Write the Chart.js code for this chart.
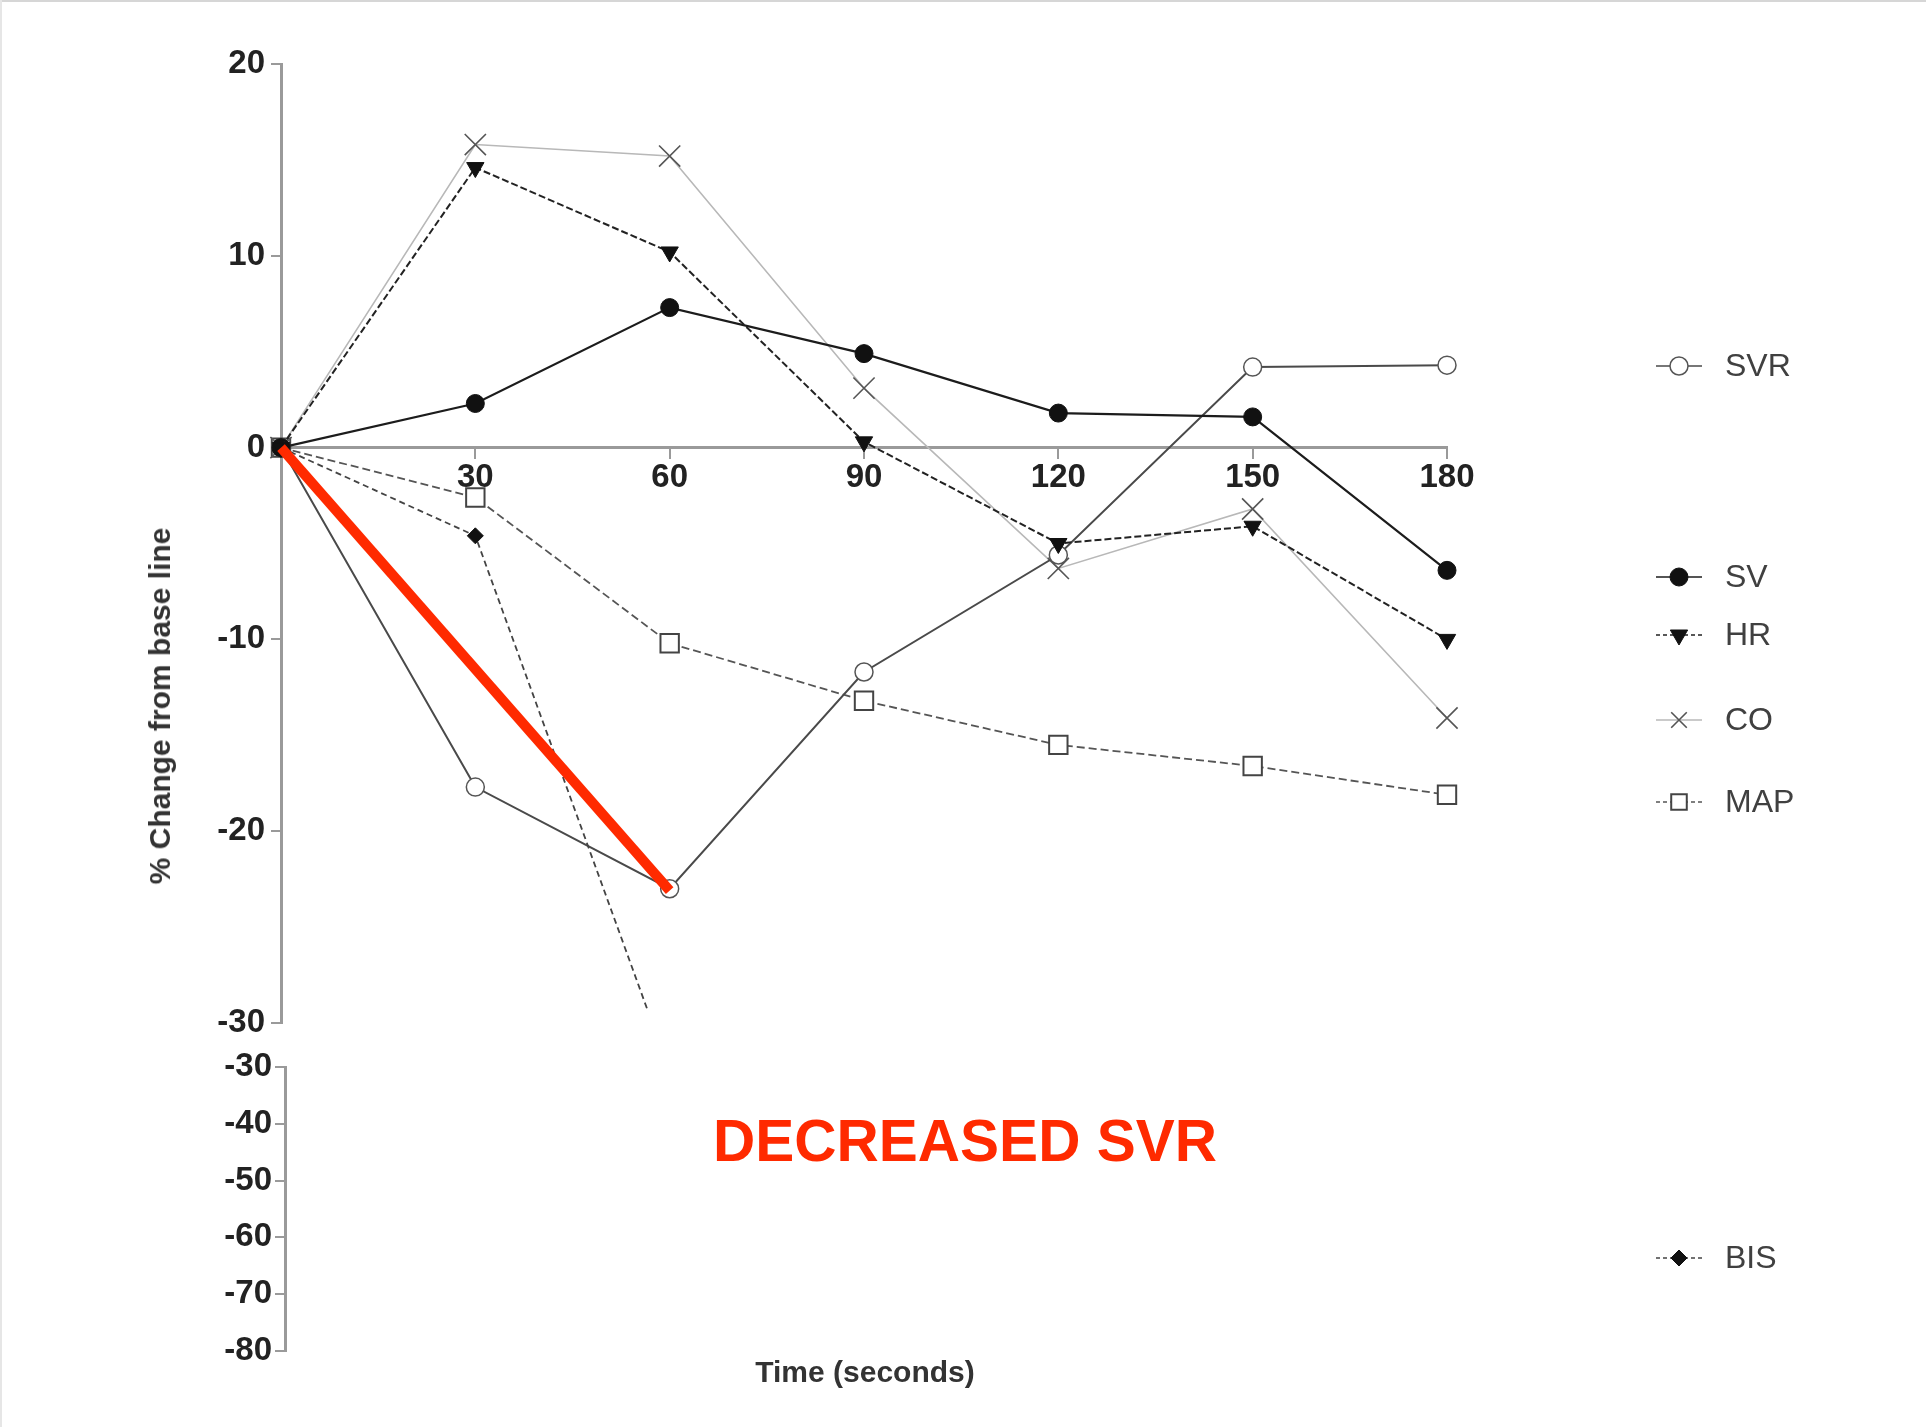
<!DOCTYPE html>
<html>
<head>
<meta charset="utf-8">
<script src="https://cdn.jsdelivr.net/npm/chart.js@4.4.0/dist/chart.umd.min.js"></script>
<style>
  html, body { margin: 0; padding: 0; background: #fff; }
  #page { position: relative; width: 1926px; height: 1427px; overflow: hidden; background: #fff; }
  #page canvas { position: absolute; left: 0; top: 0; }
  .edge { position: absolute; background: #d6d6d6; }
  .txt { position: absolute; font-family: "Liberation Sans", Arial, sans-serif; white-space: nowrap; }
  #yTitle { left: 160px; top: 706px; font-size: 30px; font-weight: bold; color: #333;
            transform: translate(-50%, -50%) rotate(-90deg); }
  #xTitle { left: 865px; top: 1372px; font-size: 30px; font-weight: bold; color: #333;
            transform: translate(-50%, -50%); }
  #note { left: 965px; top: 1140px; font-size: 60px; font-weight: bold; color: #ff2a00;
          transform: translate(-50%, -50%) scaleX(0.975); }
</style>
</head>
<body>
<div id="page">
  <canvas id="lowerChart" width="1926" height="1427"></canvas>
  <canvas id="upperChart" width="1926" height="1427"></canvas>
  <div class="edge" style="left:0;top:0;width:1926px;height:2px;"></div>
  <div class="edge" style="left:0;top:0;width:2px;height:1427px;background:#e6e6e6;"></div>
  <div class="txt" id="yTitle">% Change from base line</div>
  <div class="txt" id="xTitle">Time (seconds)</div>
  <div class="txt" id="note">DECREASED SVR</div>
</div>
<script>
// --- data ---
const seconds = [0, 30, 60, 90, 120, 150, 180];
const svr = [0, -17.7, -23.0, -11.7, -5.6, 4.2, 4.3];
const sv  = [0, 2.3, 7.3, 4.9, 1.8, 1.6, -6.4];
const hr  = [0, 14.6, 10.2, 0.3, -5.0, -4.1, -10.0];
const co  = [0, 15.8, 15.2, 3.1, -6.3, -3.2, -14.1];
const map = [0, -2.6, -10.2, -13.2, -15.5, -16.6, -18.1];
const bis = [0, -4.6, -32.5, null, null, null, null];

// red annotation stroke
const arrowSeconds = [0, 60];
const arrowValues = [0, -23.1];

const timeTicks = [30, 60, 90, 120, 150, 180];
const upperTicks = [20, 10, 0, -10, -20, -30];
const lowerTicks = [-30, -40, -50, -60, -70, -80];

// --- theme ---
const FONT = '"Liberation Sans", Arial, sans-serif';
const AXIS_GRAY = '#9a9a9a';
const TICK_FONT = { family: FONT, size: 33, weight: 'bold' };
const LEGEND_X = 1679;
const LEGEND_TEXT_X = 1725;

function pts(values) {
    return seconds.map((s, i) => ({ x: s, y: values[i] }));
}

function series(label, values, style) {
    return Object.assign({
        label: label,
        data: pts(values),
        fill: false,
        tension: 0,
        spanGaps: false,
        clip: false
    }, style);
}

// first entries are painted last (on top)
const datasets = [
    {
        label: 'note',
        data: arrowSeconds.map((s, i) => ({ x: s, y: arrowValues[i] })),
        borderColor: '#ff2a00', borderWidth: 10, borderCapStyle: 'butt',
        pointRadius: 0, fill: false, clip: false
    },
    series('HR', hr, {
        borderColor: '#222', borderWidth: 2, borderDash: [7, 3],
        pointStyle: 'triangle', pointRotation: 180, pointRadius: 10,
        pointBackgroundColor: '#111', pointBorderColor: '#111', pointBorderWidth: 1, legendY: 635
    }),
    series('SV', sv, {
        borderColor: '#1c1c1c', borderWidth: 2.2,
        pointStyle: 'circle', pointRadius: 9, pointBackgroundColor: '#111',
        pointBorderColor: '#111', pointBorderWidth: 1, legendY: 577
    }),
    series('BIS', bis, {
        borderColor: '#444', borderWidth: 1.8, borderDash: [6, 4],
        pointStyle: 'rectRot', pointRadius: 8,
        pointBackgroundColor: '#111', pointBorderColor: '#111', pointBorderWidth: 1,
        clip: { left: 20, top: 20, right: 20, bottom: -14 }, legendY: 1258
    }),
    series('SVR', svr, {
        borderColor: '#4a4a4a', borderWidth: 2,
        pointStyle: 'circle', pointRadius: 9, pointBackgroundColor: '#fff',
        pointBorderColor: '#555', pointBorderWidth: 1.5, legendY: 366
    }),
    series('CO', co, {
        borderColor: '#b8b8b8', borderWidth: 1.6,
        pointStyle: 'crossRot', pointRadius: 15,
        pointBorderColor: '#555', pointBorderWidth: 1.6, legendY: 720
    }),
    series('MAP', map, {
        borderColor: '#555', borderWidth: 1.8, borderDash: [8, 4],
        pointStyle: 'rect', pointRadius: 13, pointBackgroundColor: '#fff',
        pointBorderColor: '#444', pointBorderWidth: 2, legendY: 802
    })
];

// side legend drawn at the figure's own row positions
const sideLegend = {
    id: 'sideLegend',
    afterDraw(chart) {
        const ctx = chart.ctx;
        chart.data.datasets.forEach(ds => {
            if (!ds.legendY) return;
            const y = ds.legendY;
            ctx.save();
            ctx.strokeStyle = ds.borderColor;
            ctx.lineWidth = 1.6;
            ctx.setLineDash(ds.borderDash ? [4, 3] : []);
            ctx.beginPath();
            ctx.moveTo(LEGEND_X - 23, y);
            ctx.lineTo(LEGEND_X + 23, y);
            ctx.stroke();
            ctx.setLineDash([]);
            ctx.fillStyle = ds.pointBackgroundColor || '#fff';
            ctx.strokeStyle = ds.pointBorderColor;
            ctx.lineWidth = ds.pointBorderWidth;
            Chart.helpers.drawPoint(ctx, {
                pointStyle: ds.pointStyle,
                rotation: ds.pointRotation || 0,
                radius: Math.min(ds.pointRadius, 11),
                borderWidth: ds.pointBorderWidth
            }, LEGEND_X, y);
            ctx.fillStyle = '#404040';
            ctx.font = '32px ' + FONT;
            ctx.textBaseline = 'middle';
            ctx.textAlign = 'left';
            ctx.fillText(ds.label, LEGEND_TEXT_X, y + 1);
            ctx.restore();
        });
    }
};

function axisGrid() {
    return { display: true, drawOnChartArea: false, drawTicks: true, tickLength: 10, color: AXIS_GRAY, lineWidth: 2 };
}

// upper panel: -30 .. 20
new Chart(document.getElementById('upperChart').getContext('2d'), {
    type: 'line',
    data: { datasets: datasets },
    options: {
        responsive: false,
        animation: false,
        events: [],
        layout: { padding: { left: 181, top: 64, right: 479, bottom: 404 } },
        plugins: { legend: { display: false }, tooltip: { enabled: false } },
        scales: {
            x: {
                type: 'linear', position: { y: 0 }, min: 0, max: 180,
                afterBuildTicks: s => { s.ticks = timeTicks.map(v => ({ value: v })); },
                grid: axisGrid(),
                border: { display: true, color: AXIS_GRAY, width: 3 },
                ticks: { color: '#222', font: TICK_FONT, padding: 1, maxRotation: 0, autoSkip: false }
            },
            y: {
                type: 'linear', min: -30, max: 20,
                afterBuildTicks: s => { s.ticks = upperTicks.map(v => ({ value: v })); },
                afterFit: s => { s.width = 100; },
                grid: axisGrid(),
                border: { display: true, color: AXIS_GRAY, width: 3 },
                ticks: { color: '#222', font: TICK_FONT, padding: 6 }
            }
        }
    },
    plugins: [sideLegend]
});

// lower panel: -80 .. -30 (axis only)
new Chart(document.getElementById('lowerChart').getContext('2d'), {
    type: 'line',
    data: { datasets: [] },
    options: {
        responsive: false,
        animation: false,
        events: [],
        layout: { padding: { left: 185, top: 1067, right: 479, bottom: 76 } },
        plugins: { legend: { display: false }, tooltip: { enabled: false } },
        scales: {
            x: { type: 'linear', min: 0, max: 180, display: false },
            y: {
                type: 'linear', min: -80, max: -30,
                afterBuildTicks: s => { s.ticks = lowerTicks.map(v => ({ value: v })); },
                afterFit: s => { s.width = 100; },
                grid: axisGrid(),
                border: { display: true, color: AXIS_GRAY, width: 3 },
                ticks: { color: '#222', font: TICK_FONT, padding: 3 }
            }
        }
    }
});
</script>
</body>
</html>
